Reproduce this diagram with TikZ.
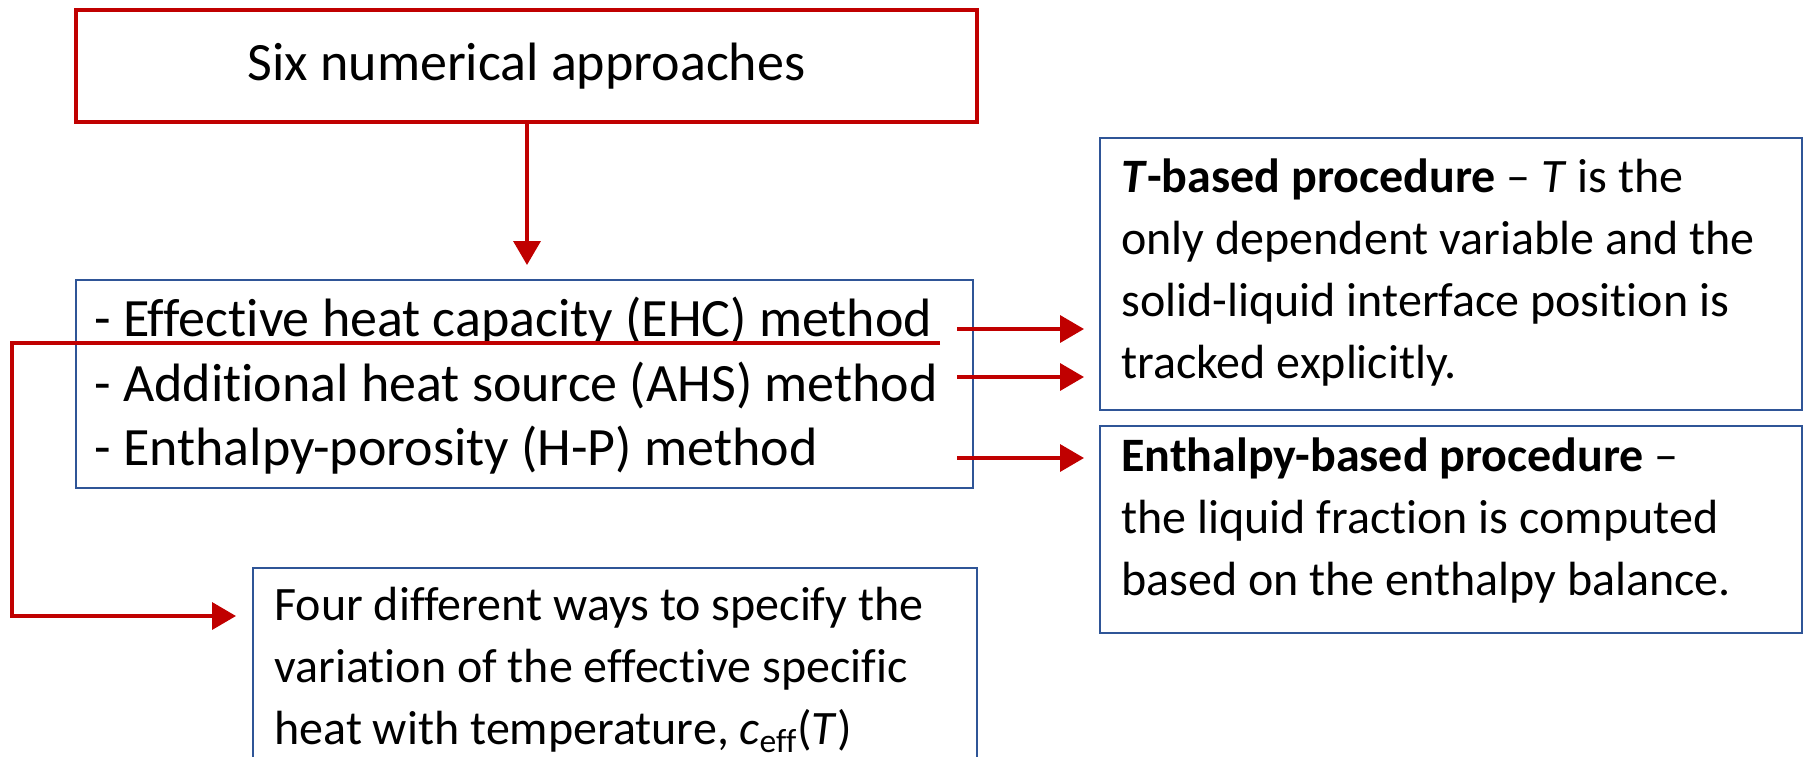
\documentclass[tikz,border=0pt]{standalone}
\usepackage{fontspec}
\setmainfont{Carlito}[Ligatures={TeX,NoCommon}]
\usetikzlibrary{arrows.meta}
\definecolor{darkred}{RGB}{192,0,0}
\definecolor{boxblue}{RGB}{47,85,151}

\begin{document}
\begin{tikzpicture}[x=0.5pt,y=-0.5pt,
  redbox/.style={draw=darkred,line width=2.2pt,inner sep=0pt},
  bluebox/.style={draw=boxblue,line width=0.8pt,inner sep=0pt},
  redarrow/.style={draw=darkred,line width=1.8pt,line join=miter,
    -{Triangle[length=12pt,width=13.5pt]}},
  bigtxt/.style={font=\fontsize{27}{32.25}\selectfont,align=left,inner sep=0pt},
  smalltxt/.style={font=\fontsize{24}{31}\selectfont,align=left,inner sep=0pt}]
  \useasboundingbox (0,0) rectangle (1804,756);
  \clip (0,0) rectangle (1804,756);

  % boxes
  \node[redbox,minimum width=450.5pt,minimum height=56pt,
        font=\fontsize{27}{32}\selectfont] (top) at (526.5,66) {Six numerical approaches};
  \node[bluebox,minimum width=448.5pt,minimum height=104pt] (meth) at (524.5,384) {};
  \node[bluebox,minimum width=351pt,minimum height=136pt] (tb) at (1451,274) {};
  \node[bluebox,minimum width=351pt,minimum height=103.5pt] (hb) at (1451,529.5) {};
  \node[bluebox,minimum width=362pt,minimum height=126pt] (ceff) at (615,694) {};

  % box texts
  \node[bigtxt,anchor=west] (methtxt) at (94,386)
    {- Effective heat capacity (EHC) method\\
     - Additional heat source (AHS) method\\
     - Enthalpy-porosity (H-P) method};
  \node[smalltxt,anchor=west] (tbtxt) at (1121,273)
    {\textbf{\textit{T}-based procedure} – \textit{T} is the\\
     only dependent variable and the\\
     solid-liquid interface position is\\
     tracked explicitly.};
  \node[smalltxt,anchor=west] (hbtxt) at (1121,521)
    {\textbf{Enthalpy-based procedure} –\\
     the liquid fraction is computed\\
     based on the enthalpy balance.};
  \node[smalltxt,anchor=west] (cefftxt) at (274,670)
    {Four different ways to specify the\\
     variation of the effective specific\\
     heat with temperature, \textit{c}\textsubscript{eff}(\textit{T})};

  % connector end points
  \coordinate (down) at (527,265);
  \coordinate (r1s) at (957,329);  \coordinate (r1e) at (1084,329);
  \coordinate (r2s) at (957,377);  \coordinate (r2e) at (1084,377);
  \coordinate (r3s) at (957,458);  \coordinate (r3e) at (1084,458);
  \coordinate (e0) at (940,343);
  \coordinate (e1) at (12,343);
  \coordinate (e2) at (236,616);

  % connectors
  \draw[redarrow] (top.south -| down) -- (down);
  \draw[redarrow] (r1s) -- (r1e);
  \draw[redarrow] (r2s) -- (r2e);
  \draw[redarrow] (r3s) -- (r3e);
  \draw[redarrow] (e0) -- (e1) |- (e2);
\end{tikzpicture}
\end{document}
